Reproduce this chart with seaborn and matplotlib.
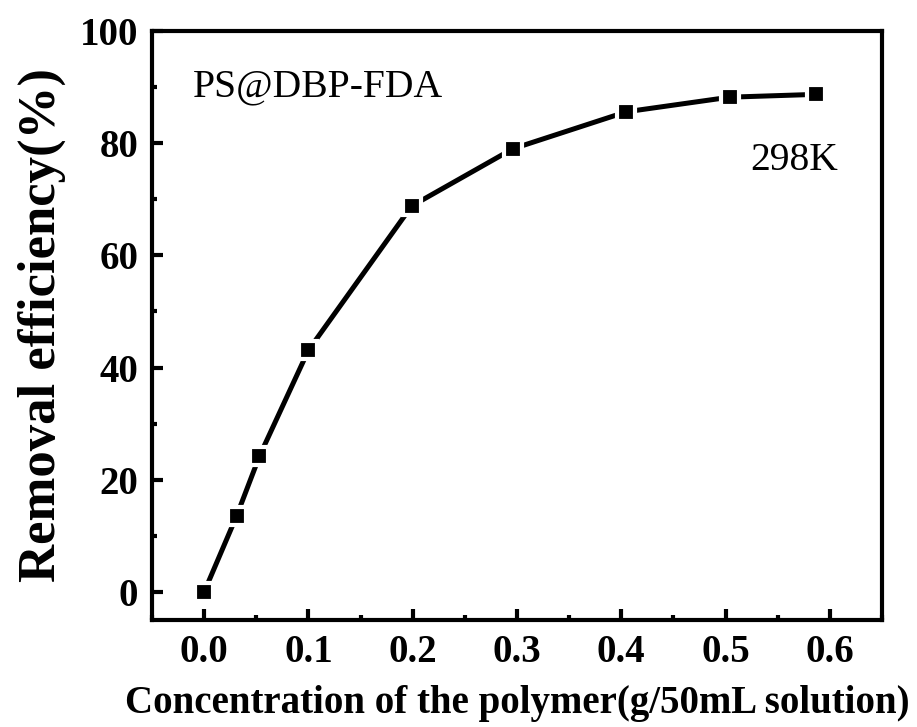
import matplotlib
matplotlib.use("Agg")
import matplotlib.pyplot as plt
import seaborn as sns
import pandas as pd
from matplotlib.ticker import MultipleLocator

# data
concentration = [0.0, 0.031, 0.053, 0.1, 0.199, 0.296, 0.405, 0.504, 0.587]
removal = [0.0, 13.5, 24.2, 43.1, 68.8, 79.0, 85.6, 88.2, 88.7]
df = pd.DataFrame({"conc": concentration, "removal": removal})

sns.set_style("ticks", {"axes.edgecolor": "black", "text.color": "black",
                        "xtick.color": "black", "ytick.color": "black",
                        "axes.labelcolor": "black"})
plt.rcParams['font.family'] = ['Liberation Serif', 'DejaVu Serif']

fig = plt.figure(figsize=(9.17, 7.27), dpi=100)
ax = fig.add_axes([0.1658, 0.1472, 0.7960, 0.8102])

sns.lineplot(data=df, x="conc", y="removal", ax=ax, color="black", lw=3.6,
             marker="s", markersize=12.5, markerfacecolor="black",
             markeredgecolor="white", markeredgewidth=3)

ax.xaxis.set_minor_locator(MultipleLocator(0.05))
ax.yaxis.set_major_locator(MultipleLocator(20))
ax.yaxis.set_minor_locator(MultipleLocator(10))
ax.set_xticks([0.0, 0.1, 0.2, 0.3, 0.4, 0.5, 0.6])
ax.set_xticklabels(["0.0", "0.1", "0.2", "0.3", "0.4", "0.5", "0.6"])
ax.set_xlim(-0.05, 0.65)
ax.set_ylim(-5, 100)

for s in ax.spines.values():
    s.set_visible(True)
    s.set_linewidth(3)
    s.set_color("black")
ax.tick_params(which="major", direction="in", length=8, width=3, labelsize=28, pad=10,
               colors="black")
ax.tick_params(which="minor", direction="in", length=3.5, width=3, colors="black")
for lab in ax.get_xticklabels() + ax.get_yticklabels():
    lab.set_fontweight("bold")

ax.set_xlabel("Concentration of the polymer(g/50mL solution)", fontsize=28,
              fontweight="bold", labelpad=10, color="black")
ax.set_ylabel("Removal efficiency(%)", fontsize=38, fontweight="bold", labelpad=10,
              color="black")

ax.text(0.056, 0.905, "PS@DBP-FDA", transform=ax.transAxes, fontsize=28.5,
        va="center", color="black")
ax.text(0.82, 0.78, "298K", transform=ax.transAxes, fontsize=28.5,
        va="center", color="black")

fig.savefig("out.png", dpi=100)
